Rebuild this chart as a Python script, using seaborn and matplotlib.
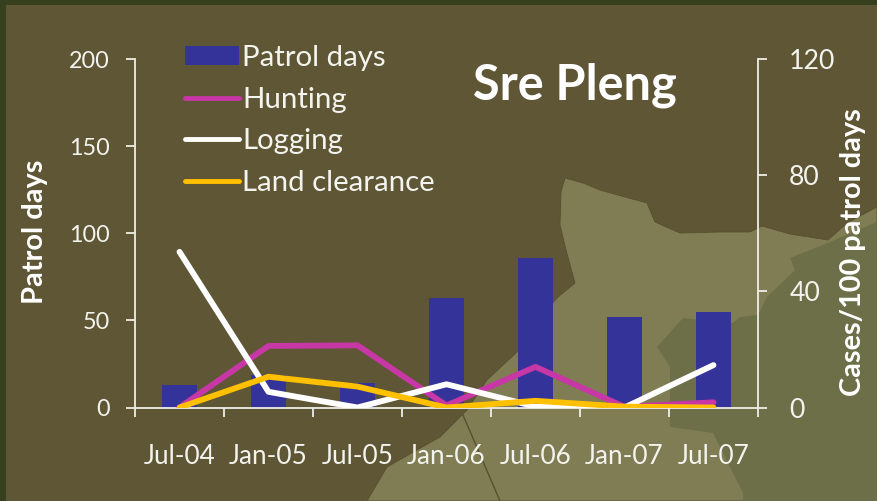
import numpy as np
import pandas as pd
import matplotlib
matplotlib.use('Agg')
import matplotlib.pyplot as plt
from matplotlib.patches import Polygon, Patch
from matplotlib.lines import Line2D
import seaborn as sns

months = ['Jul-04', 'Jan-05', 'Jul-05', 'Jan-06', 'Jul-06', 'Jan-07', 'Jul-07']
patrol_days = [13, 18.5, 14, 63, 86, 52, 55]
hunting = [0, 21.2, 21.4, 0.7, 14, 0.2, 1.8]
logging = [53.6, 5.4, 0, 8, 0.3, 0, 14.6]
land_clearance = [0, 10.6, 7.2, 0, 2.3, 0.3, 0]

left_ticks = [0, 50, 100, 150, 200]
right_ticks = [0, 40, 80, 120]

W, H = 877, 501
text_col = '#f4f4ee'
axis_col = '#eeeee6'

sns.set_theme(style='white')
plt.rcParams['font.family'] = ['Lato', 'DejaVu Sans']

fig = plt.figure(figsize=(W / 100, H / 100), dpi=100, facecolor='#36401f')

#background map, in pixel coords of the picture
bg = fig.add_axes([0, 0, 1, 1], zorder=0)
bg.set_xlim(0, W)
bg.set_ylim(H, 0)
bg.axis('off')
bg.add_patch(Polygon([(6, 5), (W, 5), (W, H), (6, H)], fc='#5f5636', ec='none'))
land = [(565, 178), (583, 183), (600, 190), (625, 197), (647, 203), (655, 222), (680, 233),
        (720, 232), (750, 232), (762, 226), (790, 234), (828, 240), (847, 223), (877, 207),
        (877, 501), (367, 501), (387, 467), (440, 437), (467, 410), (487, 380), (517, 352),
        (535, 322), (558, 297), (575, 283), (566, 250), (560, 225), (561, 192)]
bg.add_patch(Polygon(land, fc='#807d55', ec='#57502f', lw=0.6))
green = [(790, 258), (830, 242), (877, 222), (877, 501), (743, 501), (743, 493), (713, 433),
         (670, 427), (670, 367), (657, 347), (683, 318), (733, 323), (740, 317), (758, 315),
         (767, 297), (795, 270)]
bg.add_patch(Polygon(green, fc='#6c6f48', ec='none'))
bg.plot([463, 500], [415, 501], color='#57502f', lw=1)

#axes box: x 135-758, y 59-407.5
ax = fig.add_axes([135 / W, 1 - 407.5 / H, 623 / W, 348.5 / H], zorder=1)
ax.patch.set_alpha(0)

sns.barplot(x=months, y=patrol_days, color='#333399', saturation=1, width=0.4, linewidth=0, ax=ax)
ax.set_xlim(-0.5, 6.5)
ax.set_ylim(0, 200)
ax.set_yticks(left_ticks)
ax.set_xlabel('')
ax.set_ylabel('')

ax2 = ax.twinx()
ax2.patch.set_alpha(0)
line_kw = dict(linewidth=4.2, solid_capstyle='round', legend=False, ax=ax2, sort=False)
sns.lineplot(x=np.arange(len(months)), y=hunting, color='#c737a5', **line_kw)
sns.lineplot(x=np.arange(len(months)), y=logging, color='white', **line_kw)
sns.lineplot(x=np.arange(len(months)), y=land_clearance, color='#ffc000', **line_kw)
ax2.set_xlim(-0.5, 6.5)
ax2.set_ylim(0, 120)
ax2.set_yticks(right_ticks)
ax2.set_ylabel('')

#tick marks sit between the categories, labels in the middle
ax.set_xticks(np.arange(-0.5, 7, 1))
ax.set_xticklabels([])
ax.set_xticks(np.arange(7), labels=months, minor=True)
ax.tick_params(axis='x', which='major', length=6.5, width=1.3, color=axis_col, direction='out', bottom=True)
ax.tick_params(axis='x', which='minor', length=0, pad=26, labelsize=18.8, labelcolor=text_col)
ax.tick_params(axis='y', length=6.5, width=1.3, color=axis_col, pad=11.5, labelsize=16.8, labelcolor=text_col, left=True)
ax2.tick_params(axis='y', length=6.5, width=1.3, color=axis_col, pad=16, labelsize=19.2, labelcolor=text_col, right=True)

for a in (ax, ax2):
    for s in a.spines.values():
        s.set_visible(False)
    a.grid(False)
ax.spines['left'].set_visible(True)
ax.spines['bottom'].set_visible(True)
ax2.spines['right'].set_visible(True)
for s in (ax.spines['left'], ax.spines['bottom'], ax2.spines['right']):
    s.set_color(axis_col)
    s.set_linewidth(1.3)

handles = [Patch(fc='#333399', ec='none', label='Patrol days'),
           Line2D([], [], color='#c737a5', lw=3.5, solid_capstyle='round', label='Hunting'),
           Line2D([], [], color='white', lw=3.5, solid_capstyle='round', label='Logging'),
           Line2D([], [], color='#ffc000', lw=3.5, solid_capstyle='round', label='Land clearance')]
fig.legend(handles=handles, loc='upper left', bbox_to_anchor=(185 / W, 1 - 45 / H), borderaxespad=0,
           borderpad=0, frameon=False, fontsize=21.2, labelcolor=text_col, handlelength=1.85,
           handleheight=0.6, handletextpad=0.1, labelspacing=0.53)

fig.text(575 / W, 1 - 85 / H, 'Sre Pleng', color='white', fontsize=35, fontweight='bold', ha='center', va='center')
fig.text(35 / W, 1 - 232 / H, 'Patrol days', color='white', fontsize=20.9, fontweight='bold',
         rotation=90, ha='center', va='center')
fig.text(853 / W, 1 - 252 / H, 'Cases/100 patrol days', color='white', fontsize=20.8, fontweight='bold',
         rotation=90, ha='center', va='center')

fig.savefig('out.png', dpi=100, facecolor=fig.get_facecolor())
